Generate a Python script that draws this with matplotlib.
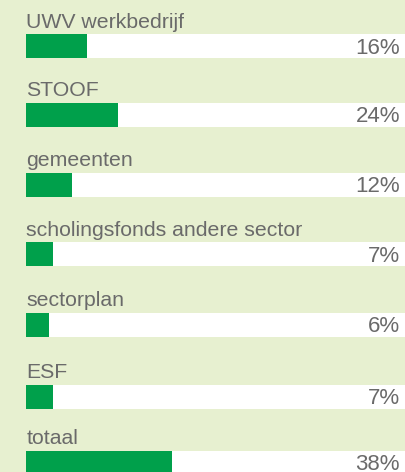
import matplotlib
matplotlib.use("Agg")
import matplotlib.pyplot as plt
import matplotlib.transforms as mtransforms

categories = ["UWV werkbedrijf", "STOOF", "gemeenten", "scholingsfonds andere sector",
              "sectorplan", "ESF", "totaal"]
values = [16, 24, 12, 7, 6, 7, 38]
value_labels = ["16%", "24%", "12%", "7%", "6%", "7%", "38%"]

# layout (pixel rows)
bar_tops = [34, 103, 173, 242, 313, 385, 451]
bar_h = 23.5

bg = "#E7F0D0"
green = "#00A04B"
grey = "#6A6A6A"

W, H = 406, 472
fig = plt.figure(figsize=(W / 100, H / 100), dpi=100)
fig.patch.set_facecolor(bg)
left_px = 26
ax = fig.add_axes([left_px / W, 0, (W - left_px) / W, 1])
ax.set_facecolor(bg)
px_per_pct = 3.83
ax.set_xlim(0, (W - left_px) / px_per_pct)
ax.set_ylim(H, 0)
ax.axis("off")

font = "Liberation Sans"
centers = [t + bar_h / 2 for t in bar_tops]
ax.barh(centers, [120] * len(values), height=bar_h, color="white", left=0, zorder=1)
ax.barh(centers, values, height=bar_h, color=green, left=0, zorder=2)

trans = mtransforms.blended_transform_factory(ax.transAxes, ax.transData)
xr = (400 - left_px) / (W - left_px)
for cat, lab, top in zip(categories, value_labels, bar_tops):
    ax.text(0.1, top - 6.5, cat, ha="left", va="baseline", fontsize=15.3,
            color=grey, family=font, zorder=3)
    ax.text(xr, top + bar_h - 4, lab, ha="right", va="baseline", fontsize=16,
            color=grey, family=font, zorder=3, transform=trans)

fig.savefig("out.png", dpi=100, facecolor=bg)
